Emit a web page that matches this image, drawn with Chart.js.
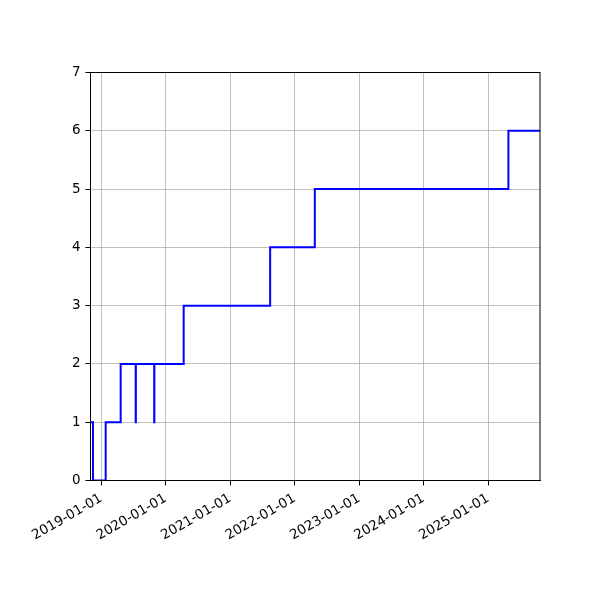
<!DOCTYPE html>
<html lang="en">
<head>
    <meta charset="UTF-8">
    <title>Step count over time</title>
    <script src="https://cdn.jsdelivr.net/npm/chart.js"></script>
    <style>
        body { margin: 0; background: white; }
        #wrap { width: 600px; height: 600px; }
    </style>
</head>
<body>
<div id="wrap">
    <canvas id="myChart" width="600" height="600"></canvas>
</div>
<script>
    // dates where the value changes (value holds until the next date)
    const stepDates = ['2018-11-01', '2018-11-15', '2019-01-26', '2019-04-21', '2019-07-15', '2019-07-16',
        '2019-10-28', '2019-10-29', '2020-04-12', '2021-08-15', '2022-04-25', '2025-04-26', '2025-10-22'];
    const stepValues = [1, 0, 1, 2, 1, 2, 1, 2, 3, 4, 5, 6, 6];

    // x tick labels, one per year
    const xTickLabels = ['2019-01-01', '2020-01-01', '2021-01-01', '2022-01-01', '2023-01-01', '2024-01-01', '2025-01-01'];
    const yTicks = [0, 1, 2, 3, 4, 5, 6, 7];

    const points = stepDates.map((d, i) => ({ x: Date.parse(d), y: stepValues[i] }));

    function fmtDate(v) {
        const d = new Date(v);
        const mm = String(d.getUTCMonth() + 1).padStart(2, '0');
        const dd = String(d.getUTCDate()).padStart(2, '0');
        return d.getUTCFullYear() + '-' + mm + '-' + dd;
    }

    // draws the top and right spines like matplotlib
    const frame = {
        id: 'frame',
        afterDatasetsDraw(chart) {
            const a = chart.chartArea, ctx = chart.ctx;
            ctx.save();
            ctx.strokeStyle = 'black';
            ctx.lineWidth = 1;
            ctx.strokeRect(a.left, a.top, a.right - a.left, a.bottom - a.top);
            ctx.restore();
        }
    };

    const font = { family: 'DejaVu Sans', size: 13.5 };

    new Chart(document.getElementById('myChart'), {
        type: 'line',
        data: {
            datasets: [{
                data: points,
                stepped: true,
                borderColor: 'blue',
                borderWidth: 2,
                pointRadius: 0,
                fill: false
            }]
        },
        options: {
            responsive: false,
            animation: false,
            layout: { padding: { left: 50, right: 60, top: 72.5, bottom: 0 } },
            plugins: { legend: { display: false }, tooltip: { enabled: false } },
            scales: {
                x: {
                    type: 'linear',
                    min: points[0].x,
                    max: points[points.length - 1].x,
                    afterBuildTicks: (scale) => {
                        scale.ticks = xTickLabels.map(l => ({ value: Date.parse(l) }));
                    },
                    afterFit: (scale) => { scale.height = 119.5; },
                    ticks: {
                        callback: (v) => fmtDate(v),
                        minRotation: 30,
                        maxRotation: 30,
                        autoSkip: false,
                        color: 'black',
                        font: font,
                        padding: 5
                    },
                    grid: { color: '#b0b0b0', lineWidth: 0.8, tickColor: 'black', tickLength: 5, tickWidth: 1 },
                    border: { display: true, color: 'black', width: 1 }
                },
                y: {
                    min: 0,
                    max: 7,
                    afterBuildTicks: (scale) => {
                        scale.ticks = yTicks.map(v => ({ value: v }));
                    },
                    afterFit: (scale) => { scale.width = 40.5; },
                    ticks: { color: 'black', font: font, padding: 5 },
                    grid: { color: '#b0b0b0', lineWidth: 0.8, tickColor: 'black', tickLength: 5, tickWidth: 1 },
                    border: { display: true, color: 'black', width: 1 }
                }
            }
        },
        plugins: [frame]
    });
</script>
</body>
</html>
